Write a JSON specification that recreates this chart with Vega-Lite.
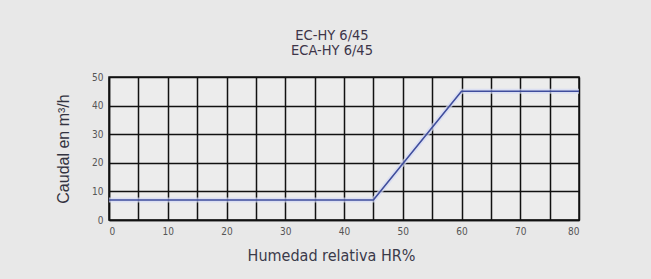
{
  "$schema": "https://vega.github.io/schema/vega-lite/v6.json",
  "width": 470,
  "height": 143,
  "autosize": {"type": "none"},
  "padding": {"left": 109, "top": 77, "right": 72, "bottom": 59},
  "background": "#e8e8e8",
  "config": {
    "view": {"stroke": "#111111", "strokeWidth": 1.5, "fill": "#ececec"},
    "font": "DejaVu Sans Condensed, Roboto, sans-serif"
  },
  "title": {
    "text": ["EC-HY 6/45", "ECA-HY 6/45"],
    "font": "DejaVu Sans Condensed, Roboto, sans-serif",
    "fontSize": 14.5,
    "fontWeight": "normal",
    "color": "#3d3548",
    "lineHeight": 14.5,
    "anchor": "middle",
    "dx": -12,
    "offset": 14
  },
  "data": {
    "values": [
      {"hr": 0, "caudal": 7},
      {"hr": 45, "caudal": 7},
      {"hr": 60, "caudal": 45},
      {"hr": 80, "caudal": 45}
    ]
  },
  "encoding": {
    "x": {
      "field": "hr",
      "type": "quantitative",
      "scale": {"domain": [0, 80], "nice": false},
      "axis": {
        "title": "Humedad relativa HR%",
        "titleFont": "DejaVu Sans Condensed, Roboto, sans-serif",
        "titleFontSize": 16,
        "titleFontWeight": "normal",
        "titleColor": "#3a3a4a",
        "titlePadding": 11,
        "titleX": 222,
        "values": [0, 5, 10, 15, 20, 25, 30, 35, 40, 45, 50, 55, 60, 65, 70, 75, 80],
        "labelExpr": "datum.value % 10 == 0 ? datum.label : ''",
        "labelFont": "DejaVu Sans Condensed, Roboto, sans-serif",
        "labelFontSize": 10,
        "labelColor": "#555555",
        "labelPadding": 6,
        "ticks": false,
        "domain": true,
        "domainColor": "#111111",
        "domainWidth": 1.5,
        "grid": true,
        "gridColor": "#111111",
        "gridWidth": 1.5,
        "gridOpacity": 1
      }
    },
    "y": {
      "field": "caudal",
      "type": "quantitative",
      "scale": {"domain": [0, 50], "nice": false},
      "axis": {
        "title": "Caudal en m³/h",
        "titleFont": "Liberation Sans",
        "titleFontSize": 16,
        "titleFontWeight": "normal",
        "titleColor": "#333340",
        "titlePadding": 20,
        "values": [0, 10, 20, 30, 40, 50],
        "labelFont": "DejaVu Sans Condensed, Roboto, sans-serif",
        "labelFontSize": 10,
        "labelColor": "#555555",
        "labelPadding": 6,
        "ticks": false,
        "domain": true,
        "domainColor": "#111111",
        "domainWidth": 1.5,
        "grid": true,
        "gridColor": "#111111",
        "gridWidth": 1.5,
        "gridOpacity": 1
      }
    }
  },
  "layer": [
    {"mark": {"type": "line", "color": "#d4daf5", "strokeWidth": 5, "opacity": 0.7}},
    {"mark": {"type": "line", "color": "#3f4d9c", "strokeWidth": 1.6}}
  ]
}
